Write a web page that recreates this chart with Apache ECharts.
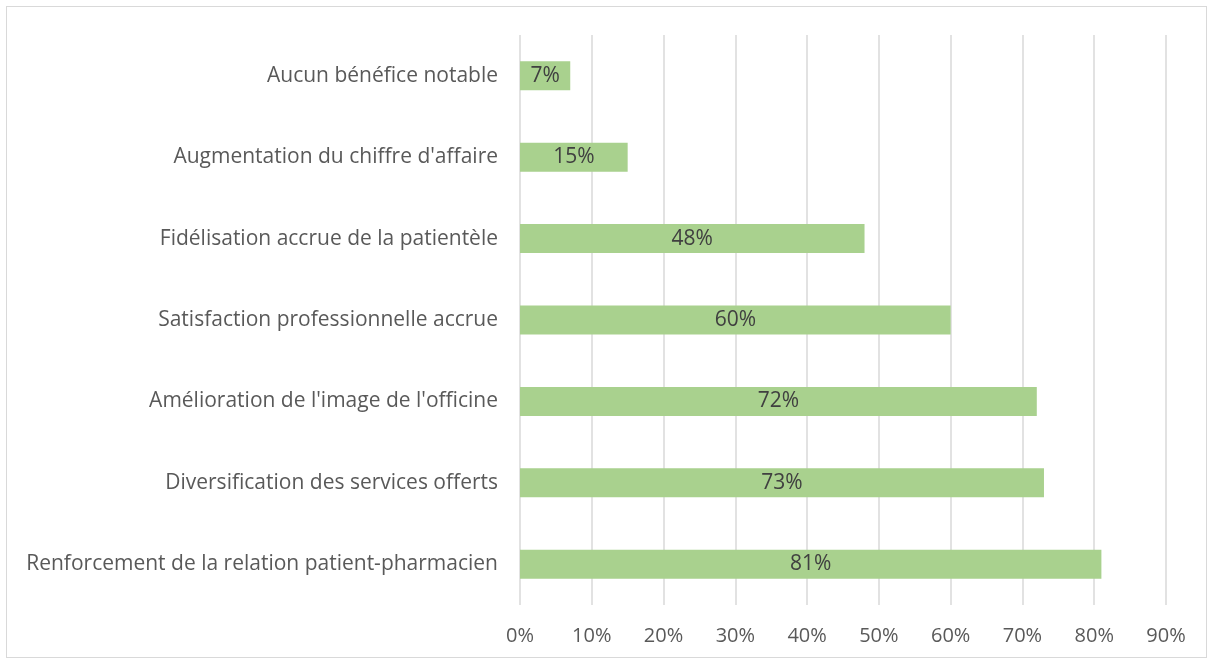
<!DOCTYPE html>
<html>
<head>
<meta charset="utf-8">
<script src="https://cdn.jsdelivr.net/npm/echarts@6/dist/echarts.min.js"></script>
<style>
  html, body { margin: 0; padding: 0; background: #fff; }
  #frame { position: absolute; left: 6px; top: 6px; width: 1199px; height: 650px; border: 1.5px solid #d9d9d9; }
  #chart { width: 1213px; height: 664px; }
</style>
</head>
<body>
<div id="frame"></div>
<div id="chart"></div>
<script>
// bottom to top, as drawn
const categories = [
  'Renforcement de la relation patient-pharmacien',
  'Diversification des services offerts',
  "Amélioration de l'image de l'officine",
  'Satisfaction professionnelle accrue',
  'Fidélisation accrue de la patientèle',
  "Augmentation du chiffre d'affaire",
  'Aucun bénéfice notable',
];
const values = [81, 73, 72, 60, 48, 15, 7];

const chart = echarts.init(document.getElementById('chart'));
const font = '"Open Sans", sans-serif';

chart.setOption({
  animation: false,
  grid: { left: 520, right: 47, top: 35, bottom: 59 },
  xAxis: {
    type: 'value',
    min: 0,
    max: 90,
    interval: 10,
    axisLine: { show: false },
    axisTick: { show: false },
    splitLine: { lineStyle: { color: '#d9d9d9', width: 1.5 } },
    axisLabel: {
      formatter: (v) => v + '%',
      color: '#595959',
      fontSize: 20,
      fontFamily: font,
      margin: 21,
    },
  },
  yAxis: {
    type: 'category',
    data: categories,
    axisLine: { show: false },
    axisTick: { show: false },
    axisLabel: {
      color: '#595959',
      fontSize: 21,
      fontFamily: font,
      margin: 22,
    },
  },
  series: [{
    type: 'bar',
    data: values,
    barWidth: 29,
    itemStyle: { color: '#a9d18e' },
    label: {
      show: true,
      position: 'inside',
      formatter: (p) => p.value + '%',
      color: '#404040',
      fontSize: 21,
      fontFamily: font,
    },
  }],
});
</script>
</body>
</html>
